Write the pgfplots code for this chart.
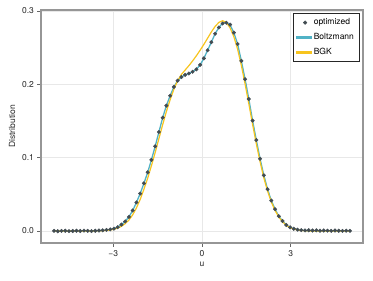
\documentclass[border=0pt]{standalone}
\usepackage{fontspec}
\setmainfont{TeX Gyre Heros}
\usepackage{pgfplots}
\usepackage{pgfplotstable}
\pgfplotsset{compat=1.18}
\definecolor{dotc}{RGB}{66,76,82}
\definecolor{boltzcol}{RGB}{80,178,198}
\definecolor{bgkcol}{RGB}{247,196,30}
\definecolor{spine}{RGB}{150,150,150}
\definecolor{gridc}{RGB}{232,232,232}
\pgfplotstableread{
u opt boltz bgk
-5.000 0.0002 0.0000 0.0000
-4.873 -0.0003 0.0000 0.0000
-4.747 0.0001 0.0000 0.0000
-4.620 0.0003 0.0000 0.0000
-4.494 -0.0002 0.0000 0.0000
-4.367 0.0000 0.0000 0.0000
-4.241 0.0004 0.0000 0.0000
-4.114 -0.0001 0.0000 0.0000
-3.987 0.0005 0.0000 0.0000
-3.861 0.0002 0.0000 0.0000
-3.734 -0.0002 0.0001 0.0000
-3.608 0.0003 0.0002 0.0001
-3.481 0.0006 0.0004 0.0002
-3.354 0.0009 0.0007 0.0004
-3.228 0.0015 0.0013 0.0008
-3.101 0.0022 0.0021 0.0014
-2.975 0.0032 0.0033 0.0024
-2.848 0.0052 0.0053 0.0040
-2.722 0.0088 0.0087 0.0064
-2.595 0.0130 0.0132 0.0100
-2.468 0.0192 0.0193 0.0150
-2.342 0.0280 0.0278 0.0220
-2.215 0.0390 0.0390 0.0315
-2.089 0.0510 0.0510 0.0430
-1.962 0.0650 0.0650 0.0570
-1.835 0.0800 0.0800 0.0720
-1.709 0.0970 0.0970 0.0890
-1.582 0.1155 0.1155 0.1070
-1.456 0.1350 0.1350 0.1260
-1.329 0.1545 0.1545 0.1450
-1.203 0.1710 0.1710 0.1630
-1.076 0.1845 0.1845 0.1790
-0.949 0.1965 0.1965 0.1935
-0.823 0.2050 0.2050 0.2050
-0.696 0.2100 0.2100 0.2135
-0.570 0.2130 0.2130 0.2195
-0.443 0.2148 0.2148 0.2255
-0.316 0.2172 0.2172 0.2320
-0.190 0.2205 0.2205 0.2390
-0.063 0.2265 0.2265 0.2465
0.063 0.2355 0.2355 0.2545
0.190 0.2465 0.2465 0.2630
0.316 0.2575 0.2575 0.2715
0.443 0.2690 0.2690 0.2790
0.570 0.2775 0.2775 0.2845
0.696 0.2830 0.2835 0.2868
0.823 0.2840 0.2845 0.2845
0.949 0.2815 0.2810 0.2770
1.076 0.2705 0.2705 0.2650
1.203 0.2550 0.2550 0.2480
1.329 0.2320 0.2320 0.2260
1.456 0.2070 0.2070 0.2005
1.582 0.1800 0.1800 0.1735
1.709 0.1505 0.1505 0.1455
1.835 0.1240 0.1240 0.1190
1.962 0.0985 0.0985 0.0945
2.089 0.0760 0.0760 0.0725
2.215 0.0570 0.0570 0.0545
2.342 0.0415 0.0415 0.0395
2.468 0.0298 0.0298 0.0280
2.595 0.0202 0.0202 0.0190
2.722 0.0136 0.0136 0.0125
2.848 0.0082 0.0082 0.0078
2.975 0.0050 0.0050 0.0046
3.101 0.0030 0.0029 0.0026
3.228 0.0018 0.0017 0.0014
3.354 0.0012 0.0010 0.0007
3.481 0.0008 0.0006 0.0003
3.608 0.0010 0.0003 0.0001
3.734 0.0006 0.0002 0.0000
3.861 0.0009 0.0001 0.0000
3.987 0.0004 0.0000 0.0000
4.114 0.0007 0.0000 0.0000
4.241 0.0005 0.0000 0.0000
4.367 0.0002 0.0000 0.0000
4.494 0.0006 0.0000 0.0000
4.620 0.0003 0.0000 0.0000
4.747 0.0001 0.0000 0.0000
4.873 0.0004 0.0000 0.0000
5.000 0.0002 0.0000 0.0000
}\datatable
\begin{document}
\begin{tikzpicture}
\begin{axis}[name=ax, scale only axis, width=322pt, height=233pt,
  xmin=-5.44, xmax=5.44, ymin=-0.0164, ymax=0.3014,
  xtick={-3,0,3}, xticklabels={−3,0,3},
  ytick={0,0.1,0.2,0.3}, yticklabels={0.0,0.1,0.2,0.3},
  grid=major, major grid style={gridc, line width=0.6pt},
  axis line style={spine, line width=1.3pt},
  tick style={black!60, line width=0.6pt}, tick align=outside, major tick length=3.5pt,
  xtick pos=left, ytick pos=left,
  tick label style={font=\fontsize{8.5}{10}\selectfont, black!85},
  xlabel={u}, ylabel={Distribution},
  label style={font=\fontsize{8.5}{10}\selectfont, black!85},
  xlabel style={yshift=1pt},
  legend style={at={(0.988,0.987)}, anchor=north east, draw=black!85,
    font=\fontsize{8.5}{10}\selectfont, row sep=3pt, inner xsep=3pt, inner ysep=3.5pt},
  legend cell align=left,
]
\addplot[only marks, mark=*, mark size=1.8pt, mark options={fill=dotc, draw=dotc}] table[x=u, y=opt] {\datatable};
\addlegendentry{optimized}
\addplot[forget plot, draw=boltzcol, line width=1.3pt, no marks] table[x=u, y=boltz] {\datatable};
\addlegendimage{legend image code/.code={\fill[boltzcol] (0pt,-1pt) rectangle (15pt,1pt);}}
\addlegendentry{Boltzmann}
\addplot[forget plot, draw=bgkcol, line width=1.2pt, no marks] table[x=u, y=bgk] {\datatable};
\addlegendimage{legend image code/.code={\fill[bgkcol] (0pt,-0.8pt) rectangle (15pt,0.8pt);}}
\addlegendentry{BGK}
\end{axis}
\pgfresetboundingbox
\path ([shift={(-41pt,-37pt)}]ax.south west) rectangle ([shift={(10pt,10pt)}]ax.north east);
\end{tikzpicture}
\end{document}
